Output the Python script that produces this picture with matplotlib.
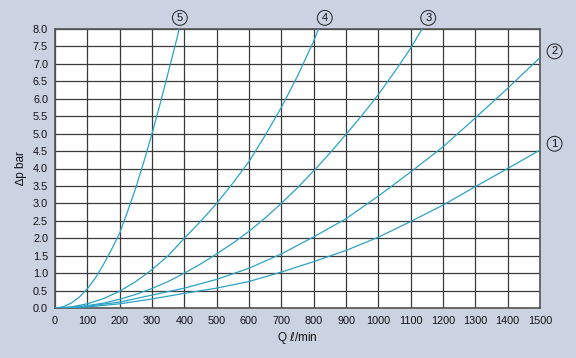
import matplotlib.pyplot as plt

# flow rate Q (l/min) and pressure drop (bar)
q1 = [0, 50, 100, 200, 300, 400, 500, 600, 700, 800, 900, 1000, 1100, 1200, 1300, 1400, 1500]
p1 = [0, 0.01, 0.03, 0.12, 0.26, 0.42, 0.57, 0.76, 1.03, 1.33, 1.65, 2.03, 2.48, 2.95, 3.48, 4.0, 4.53]

q2 = [0, 50, 100, 200, 300, 400, 500, 600, 700, 800, 900, 1000, 1100, 1200, 1300, 1400, 1500]
p2 = [0, 0.015, 0.05, 0.17, 0.37, 0.57, 0.82, 1.14, 1.55, 2.04, 2.56, 3.21, 3.9, 4.62, 5.45, 6.3, 7.18]

q3 = [0, 50, 100, 150, 200, 250, 300, 350, 400, 450, 500, 550, 600, 650, 700, 750,
      800, 850, 900, 950, 1000, 1050, 1100, 1135]
p3 = [0, 0.018, 0.07, 0.14, 0.25, 0.39, 0.56, 0.76, 1.0, 1.26, 1.55, 1.86, 2.2, 2.58, 3.0, 3.45,
      3.93, 4.44, 4.98, 5.53, 6.12, 6.77, 7.45, 8.0]

q4 = [0, 50, 100, 150, 200, 250, 300, 350, 400, 450, 500, 550, 600, 650, 700, 750, 800, 815]
p4 = [0, 0.03, 0.12, 0.27, 0.48, 0.76, 1.1, 1.5, 2.0, 2.48, 3.0, 3.58, 4.2, 4.95, 5.75, 6.65, 7.65, 8.0]

q5 = [0, 25, 50, 75, 100, 125, 150, 175, 200, 225, 250, 275, 300, 325, 350, 375, 384]
p5 = [0, 0.035, 0.14, 0.31, 0.55, 0.86, 1.25, 1.68, 2.15, 2.78, 3.45, 4.2, 5.0, 5.85, 6.75, 7.65, 8.0]

curve_labels = ['1', '2', '3', '4', '5']
x_ticks = list(range(0, 1600, 100))
y_ticks = [i * 0.5 for i in range(17)]

bg = '#cbd2e2'
line_color = '#2ba3c6'
grid_color = '#3a3a3a'

plt.rcParams['font.family'] = ['Liberation Sans', 'DejaVu Sans']
plt.rcParams['mathtext.fontset'] = 'dejavusans'

fig = plt.figure(figsize=(5.76, 3.58), dpi=100, facecolor=bg)
ax = fig.add_axes([55 / 576, 1 - 308 / 358, 485 / 576, 279 / 358])
ax.set_facecolor('white')

for q, p in [(q1, p1), (q2, p2), (q3, p3), (q4, p4), (q5, p5)]:
    ax.plot(q, p, color=line_color, lw=0.9, zorder=3)

ax.set_xlim(0, 1500)
ax.set_ylim(0, 8)
ax.set_xticks(x_ticks)
ax.set_yticks(y_ticks)
ax.set_yticklabels([f'{v:.1f}' for v in y_ticks])
ax.grid(True, color=grid_color, lw=0.9)
ax.tick_params(length=0, labelsize=7.8, colors='#111111')
ax.tick_params(axis='x', pad=6)
ax.tick_params(axis='y', pad=5)
for s in ax.spines.values():
    s.set_color('#555555')
    s.set_linewidth(1.2)

ax.set_xlabel(r'Q $\ell$/min', fontsize=8.5, labelpad=3, color='#111111')
ax.set_ylabel('∆p bar', fontsize=8.5, labelpad=4, color='#111111')

# circled curve numbers, placed at the curve ends
label_pos = [(1500, p1[-1]), (1500, p2[-1]), (q3[-1], 8.0), (q4[-1], 8.0), (q5[-1], 8.0)]
label_off = [(10.5, 4.5), (10.5, 4.5), (4.5, 8), (4.5, 8), (0.5, 8)]
for lab, xy, off in zip(curve_labels, label_pos, label_off):
    ax.annotate(lab, xy=xy, xytext=off, textcoords='offset points',
                ha='center', va='center', fontsize=8, color='#111111',
                annotation_clip=False,
                bbox=dict(boxstyle='circle,pad=0.22', fc='none', ec='#222222', lw=0.7))

fig.savefig('out.png', dpi=100, facecolor=bg)
